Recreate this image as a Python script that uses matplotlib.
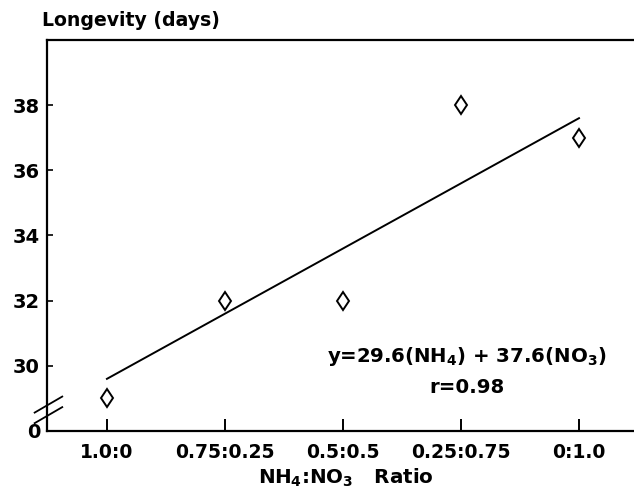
import numpy as np
import matplotlib
matplotlib.use("Agg")
import matplotlib.pyplot as plt
from matplotlib.lines import Line2D

plt.rcParams['font.family'] = ['DejaVu Sans']
plt.rcParams['font.weight'] = 'bold'
plt.rcParams['mathtext.fontset'] = 'custom'
plt.rcParams['mathtext.rm'] = 'DejaVu Sans:bold'
plt.rcParams['mathtext.default'] = 'rm'

ratios = ['1.0:0', '0.75:0.25', '0.5:0.5', '0.25:0.75', '0:1.0']
longevity = [29, 32, 32, 38, 37]
fit_start = 29.6   # NH4 coefficient
fit_end = 37.6     # NO3 coefficient
yticks = [28, 30, 32, 34, 36, 38]
ylabels = ['0', '30', '32', '34', '36', '38']

x = np.arange(len(ratios))

fig = plt.figure(figsize=(6.34, 4.93), dpi=100)
ax = fig.add_axes([0.0741, 0.1258, 0.9259, 0.7931])

ax.plot(x, longevity, 'd', ms=9.5, mfc='white', mec='black', mew=1.4, zorder=3)
ax.plot([x[0], x[-1]], [fit_start, fit_end], c='black', lw=1.4)

ax.set_xlim(-0.508, 4.466)
ax.set_ylim(28, 40)
ax.set_xticks(x)
ax.set_xticklabels(ratios)
ax.set_yticks(yticks)
ax.set_yticklabels(ylabels)
ax.tick_params(axis='x', direction='in', length=9, width=1.4, pad=9, labelsize=13.5)
ax.tick_params(axis='y', direction='in', length=4, width=1.2, pad=5, labelsize=14)
ax.yaxis.get_major_ticks()[0].tick1line.set_visible(False)
for s in ['left', 'bottom', 'top']:
    ax.spines[s].set_linewidth(1.6)
ax.spines['right'].set_visible(False)

# axis break marks
for dy in [0, -0.027]:
    ax.add_line(Line2D([-0.021, 0.026], [0.047 + dy, 0.088 + dy], transform=ax.transAxes,
                       c='black', lw=1.3, clip_on=False))

ax.text(0.715, 0.19, r'y=29.6(NH$_4$) + 37.6(NO$_3$)', transform=ax.transAxes,
        ha='center', va='center', fontsize=14.2)
ax.text(0.715, 0.11, 'r=0.98', transform=ax.transAxes,
        ha='center', va='center', fontsize=14.2)

fig.text(0.066, 0.958, 'Longevity (days)', ha='left', va='center', fontsize=13.6)
fig.text(0.546, 0.03, r'NH$_4$:NO$_3$   Ratio', ha='center', va='center', fontsize=14.3)

fig.savefig('out.png', dpi=100)
